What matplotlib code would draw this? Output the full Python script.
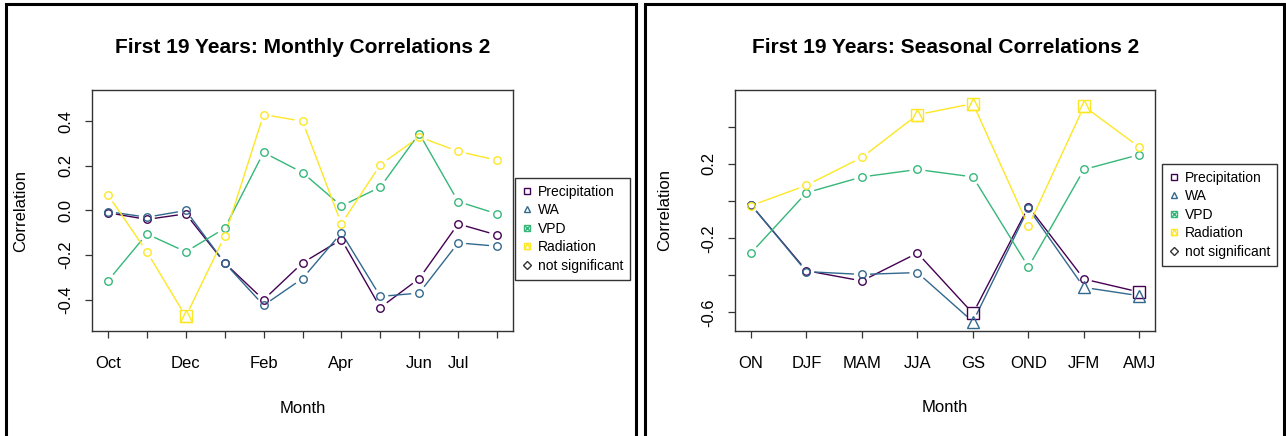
import numpy as np
import matplotlib
matplotlib.use("Agg")
import matplotlib.pyplot as plt
from matplotlib.lines import Line2D
from matplotlib.patches import Rectangle
from matplotlib.legend_handler import HandlerTuple

plt.rcParams['font.family'] = ['Liberation Sans', 'DejaVu Sans']

# ---------------- data ----------------
months = ['Oct', 'Nov', 'Dec', 'Jan', 'Feb', 'Mar', 'Apr', 'May', 'Jun', 'Jul', 'Aug']
month_tick_labels = ['Oct', '', 'Dec', '', 'Feb', '', 'Apr', '', 'Jun', 'Jul', '']
precip_m = [-0.01, -0.04, -0.015, -0.235, -0.40, -0.235, -0.13, -0.435, -0.305, -0.06, -0.11]
wa_m = [-0.005, -0.03, 0.0, -0.235, -0.425, -0.305, -0.10, -0.385, -0.37, -0.145, -0.16]
vpd_m = [-0.315, -0.105, -0.185, -0.08, 0.26, 0.17, 0.02, 0.105, 0.345, 0.04, -0.015]
rad_m = [0.07, -0.185, -0.475, -0.115, 0.43, 0.40, -0.06, 0.205, 0.33, 0.265, 0.225]
sig_precip_m = [False] * 11
sig_wa_m = [False] * 11
sig_vpd_m = [False] * 11
sig_rad_m = [False, False, True, False, False, False, False, False, False, False, False]

seasons = ['ON', 'DJF', 'MAM', 'JJA', 'GS', 'OND', 'JFM', 'AMJ']
precip_s = [-0.02, -0.375, -0.43, -0.28, -0.605, -0.03, -0.42, -0.49]
wa_s = [-0.02, -0.38, -0.395, -0.385, -0.65, -0.04, -0.465, -0.51]
vpd_s = [-0.28, 0.045, 0.13, 0.17, 0.13, -0.355, 0.17, 0.25]
rad_s = [-0.025, 0.085, 0.235, 0.465, 0.525, -0.135, 0.51, 0.29]
sig_precip_s = [False, False, False, False, True, False, False, True]
sig_wa_s = [False, False, False, False, True, False, True, True]
sig_vpd_s = [False] * 8
sig_rad_s = [False, False, False, True, True, False, True, False]

left_yticks = [-0.4, -0.2, 0.0, 0.2, 0.4]
left_yticklabels = ['-0.4', '-0.2', '0.0', '0.2', '0.4']
right_yticks = [-0.6, -0.4, -0.2, 0.0, 0.2, 0.4]
right_yticklabels = ['-0.6', '', '-0.2', '', '0.2', '']

series_names = ['Precipitation', 'WA', 'VPD', 'Radiation']
colors = ['#440154', '#31688E', '#35B779', '#FDE725']
sig_kind = ['prec', 'wa', 'vpd', 'rad']

# ---------------- figure ----------------
W, H = 1286, 436
fig = plt.figure(figsize=(W / 100, H / 100), dpi=100)


def fr(x0, x1, ytop, ybot):
    return [x0 / W, 1 - ybot / H, (x1 - x0) / W, (ybot - ytop) / H]


ax1 = fig.add_axes(fr(92.4, 512.6, 90, 331))
ax2 = fig.add_axes(fr(735.4, 1155, 90, 330.7))

# panel borders
for (x0, x1) in [(6, 636), (645, 1284)]:
    fig.patches.append(Rectangle((x0 / W, -0.05), (x1 - x0) / W, 1.05 - 4 / H,
                                 transform=fig.transFigure, fill=False,
                                 edgecolor='black', linewidth=2.2))


def draw_sig(ax, x, y, kind, color, ms=9):
    if kind == 'prec':
        ax.plot([x], [y], marker='s', ms=ms, mfc='none', mec=color, mew=1.0, ls='none', zorder=4)
    elif kind == 'wa':
        ax.plot([x], [y], marker='^', ms=ms, mfc='none', mec=color, mew=1.0, ls='none', zorder=4)
    elif kind == 'vpd':
        ax.plot([x], [y], marker='s', ms=ms, mfc='none', mec=color, mew=1.0, ls='none', zorder=4)
        ax.plot([x], [y], marker='x', ms=ms, mfc='none', mec=color, mew=1.0, ls='none', zorder=4)
    else:
        ax.plot([x], [y], marker='s', ms=ms, mfc='none', mec=color, mew=1.0, ls='none', zorder=4)
        ax.plot([x], [y], marker='^', ms=ms * 0.95, mfc='none', mec=color, mew=1.0, ls='none', zorder=4)


def draw_b(ax, xs, ys, sigs, color, kind, gap=8.0):
    pts = ax.transData.transform(np.column_stack([xs, ys]))
    inv = ax.transData.inverted()
    for i in range(len(xs) - 1):
        p0, p1 = pts[i], pts[i + 1]
        d = p1 - p0
        L = np.hypot(*d)
        if L <= 2 * gap:
            continue
        u = d / L
        a = inv.transform(p0 + u * gap)
        b = inv.transform(p1 - u * gap)
        ax.plot([a[0], b[0]], [a[1], b[1]], color=color, lw=1.0, solid_capstyle='butt', zorder=3)
    for x, y, s in zip(xs, ys, sigs):
        if s:
            draw_sig(ax, x, y, kind, color)
        else:
            ax.plot([x], [y], marker='o', ms=5.4, mfc='none', mec=color, mew=1.0, ls='none', zorder=4)


def setup(ax, n, ylim, yticks, yticklabels, xticklabels, title):
    ax.set_xlim(1 - 0.04 * (n - 1), n + 0.04 * (n - 1))
    ax.set_ylim(*ylim)
    ax.set_xticks(range(1, n + 1))
    ax.set_xticklabels(xticklabels, fontsize=12)
    ax.set_yticks(yticks)
    ax.set_yticklabels(yticklabels, fontsize=12, rotation=90, va='center')
    ax.tick_params(axis='both', direction='out', length=5, width=0.9, color='#333333')
    ax.tick_params(axis='x', pad=13)
    ax.tick_params(axis='y', pad=9)
    for sp in ax.spines.values():
        sp.set_color('#333333')
        sp.set_linewidth(1.0)
    ax.set_xlabel('Month', fontsize=12, va='center')
    ax.xaxis.set_label_coords(0.5, -0.32)
    ax.set_ylabel('Correlation', fontsize=12, va='center')
    ax.text(0.5, 1.175, title, transform=ax.transAxes, ha='center', va='center',
            fontsize=15, fontweight='bold')


setup(ax1, len(months), (-0.54, 0.54), left_yticks, left_yticklabels, month_tick_labels,
      'First 19 Years: Monthly Correlations 2')
ax1.yaxis.set_label_coords(-0.172, 0.5)
setup(ax2, len(seasons), (-0.698, 0.598), right_yticks, right_yticklabels, seasons,
      'First 19 Years: Seasonal Correlations 2')
ax2.yaxis.set_label_coords(-0.168, 0.5)

xm = np.arange(1, len(months) + 1)
xs = np.arange(1, len(seasons) + 1)
for vals, sigs, c, k in zip([precip_m, wa_m, vpd_m, rad_m],
                            [sig_precip_m, sig_wa_m, sig_vpd_m, sig_rad_m], colors, sig_kind):
    draw_b(ax1, xm, vals, sigs, c, k)
for vals, sigs, c, k in zip([precip_s, wa_s, vpd_s, rad_s],
                            [sig_precip_s, sig_wa_s, sig_vpd_s, sig_rad_s], colors, sig_kind):
    draw_b(ax2, xs, vals, sigs, c, k)


def legend_handles():
    lm = 5.0
    h = [
        Line2D([], [], marker='s', ms=lm, mfc='none', mec=colors[0], mew=1.0, ls='none'),
        Line2D([], [], marker='^', ms=lm, mfc='none', mec=colors[1], mew=1.0, ls='none'),
        (Line2D([], [], marker='s', ms=lm, mfc='none', mec=colors[2], mew=1.0, ls='none'),
         Line2D([], [], marker='x', ms=lm, mfc='none', mec=colors[2], mew=1.0, ls='none')),
        (Line2D([], [], marker='s', ms=lm, mfc='none', mec=colors[3], mew=1.0, ls='none'),
         Line2D([], [], marker='^', ms=lm, mfc='none', mec=colors[3], mew=1.0, ls='none')),
        Line2D([], [], marker='D', ms=3.6, mfc='none', mec='#333333', mew=1.0, ls='none'),
    ]
    return h


labels = series_names + ['not significant']
for ax, anchor in [(ax1, (1.006, 0.635)), (ax2, (1.016, 0.693))]:
    leg = ax.legend(legend_handles(), labels, loc='upper left', bbox_to_anchor=anchor,
                    borderaxespad=0, fontsize=10, frameon=True, fancybox=False,
                    framealpha=1, edgecolor='#333333', handlelength=0.7,
                    handletextpad=0.45, labelspacing=0.32, borderpad=0.5,
                    handler_map={tuple: HandlerTuple(ndivide=1)})
    leg.get_frame().set_linewidth(1.0)

fig.savefig('out.png', dpi=100)
